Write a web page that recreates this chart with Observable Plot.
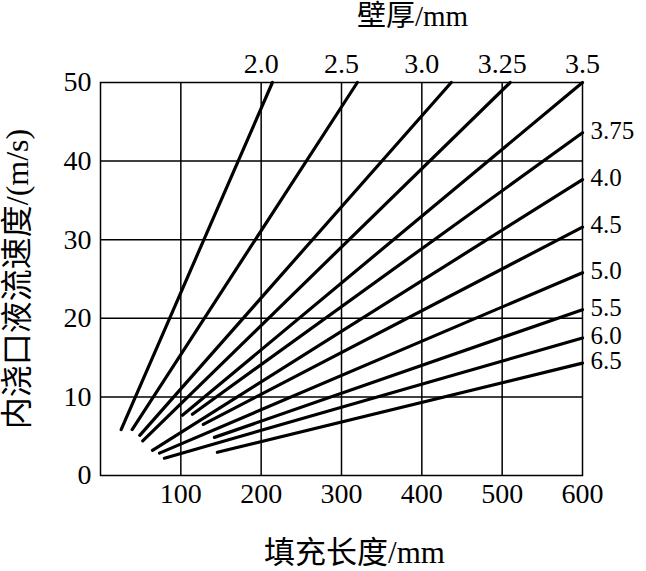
<!DOCTYPE html>
<html><head><meta charset="utf-8">
<script src="https://cdn.jsdelivr.net/npm/d3@7"></script>
<script src="https://cdn.jsdelivr.net/npm/@observablehq/plot@0.6"></script>
<style>body{margin:0;background:#fff}</style>
</head><body><div id="chart"></div>
<script>
const thickness   = ["2.0","2.5","3.0","3.25","3.5","3.75","4.0","4.5","5.0","5.5","6.0","6.5"];
const startLength = [25.7, 39.4, 48.9, 52.6, 102, 114.4, 64.7, 128, 73.4, 141.8, 79.6, 145.5];
const startSpeed  = [5.85, 5.85, 5.1, 4.4, 7.66, 7.8, 3.2, 6.5, 2.85, 4.85, 2.2, 2.95];
const endLength   = [214, 319.7, 436.6, 510, 600, 600, 600, 600, 600, 600, 600, 600];
const endSpeed    = [50, 50, 50, 50, 50, 43.6, 37.65, 31.6, 25.8, 21.1, 17.5, 14.3];
const xTicks = [100, 200, 300, 400, 500, 600];
const yTicks = [0, 10, 20, 30, 40, 50];
const topTicks = [200, 300, 400, 500, 600];
const topLabels = ["2.0", "2.5", "3.0", "3.25", "3.5"];
const xLabel = "填充长度/mm";
const yLabel = "内浇口液流速度/(m/s)";
const topTitle = "壁厚/mm";

const pts = thickness.flatMap((t, i) => [
  {t, x: startLength[i], y: startSpeed[i]},
  {t, x: endLength[i], y: endSpeed[i]}
]);
const rightEnds = thickness.map((t, i) => ({t, x: endLength[i], y: endSpeed[i]}))
  .filter(d => d.x === 600 && d.y < 50);

const font = "'Liberation Serif', 'Noto Sans CJK SC', serif";
const chart = Plot.plot({
  width: 646, height: 571,
  marginLeft: 100, marginRight: 64, marginTop: 82, marginBottom: 96,
  style: {fontFamily: font, background: "#fff", color: "#000"},
  x: {domain: [0, 600]},
  y: {domain: [0, 50]},
  marks: [
    Plot.ruleX(xTicks.filter(d => d < 600), {stroke: "#000", strokeWidth: 1.5}),
    Plot.ruleY(yTicks.filter(d => d > 0 && d < 50), {stroke: "#000", strokeWidth: 1.5}),
    Plot.frame({stroke: "#000", strokeWidth: 1.5}),
    Plot.line(pts, {x: "x", y: "y", z: "t", stroke: "#000", strokeWidth: 3.2}),
    Plot.axisX({ticks: xTicks, tickSize: 0, tickPadding: 8, fontSize: 28, label: null}),
    Plot.axisY({ticks: yTicks, tickSize: 0, tickPadding: 9, fontSize: 28, label: null}),
    Plot.axisX({anchor: "top", ticks: topTicks, tickFormat: (d, i) => topLabels[i], tickSize: 0, tickPadding: 10, fontSize: 28, label: null}),
    Plot.text(rightEnds, {x: "x", y: "y", text: "t", textAnchor: "start", dx: 8, dy: -2, fontSize: 25, fill: "#000"}),
    Plot.text([xLabel], {frameAnchor: "bottom", lineAnchor: "middle", textAnchor: "middle", dx: 13, dy: 78, fontSize: 31, fill: "#000"}),
    Plot.text([yLabel], {frameAnchor: "left", lineAnchor: "middle", textAnchor: "middle", dx: -83, rotate: -90, fontSize: 32, fill: "#000"}),
    Plot.text([topTitle], {frameAnchor: "top", lineAnchor: "middle", textAnchor: "middle", dx: 71, dy: -66, fontSize: 29, fill: "#000"})
  ]
});
document.getElementById("chart").appendChild(chart);
</script>
</body></html>
